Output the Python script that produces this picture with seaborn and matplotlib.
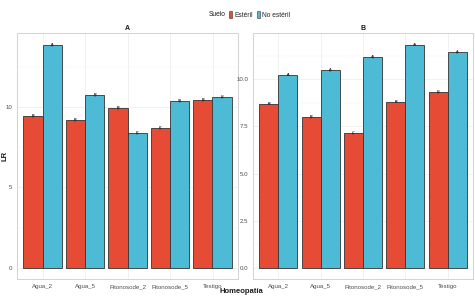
import numpy as np
import pandas as pd
import matplotlib
matplotlib.use('Agg')
import matplotlib.pyplot as plt
import seaborn as sns
from matplotlib.patches import Patch

# data
tratamientos = ['Agua_2', 'Agua_5', 'Fitonosode_2', 'Fitonosode_5', 'Testigo']
suelos = ['Estéril', 'No estéril']

a_esteril = [9.44, 9.19, 9.94, 8.70, 10.43]
a_no_esteril = [13.85, 10.75, 8.39, 10.37, 10.59]
a_se_esteril = [0.05, 0.05, 0.05, 0.05, 0.04]
a_se_no_esteril = [0.05, 0.05, 0.05, 0.05, 0.04]
a_letras_esteril = ['B', 'B', 'B', 'C', 'B']
a_letras_no_esteril = ['A', 'B', 'C', 'B', 'B']

b_esteril = [8.70, 8.01, 7.13, 8.81, 9.30]
b_no_esteril = [10.25, 10.47, 11.19, 11.83, 11.42]
b_se_esteril = [0.04, 0.04, 0.04, 0.04, 0.04]
b_se_no_esteril = [0.04, 0.04, 0.04, 0.04, 0.04]
b_letras_esteril = ['B', 'B', 'C', 'B', 'B']
b_letras_no_esteril = ['A', 'A', 'A', 'A', 'A']

colores = {'Estéril': '#E64B35', 'No estéril': '#4DBBD5'}

sns.set_style('white')
plt.rcParams['font.family'] = ['Liberation Sans', 'DejaVu Sans']

fig = plt.figure(figsize=(4.75, 2.97), dpi=100)
ax_a = fig.add_axes([17 / 475, 1 - 279 / 297, 221 / 475, 246 / 297])
ax_b = fig.add_axes([253 / 475, 1 - 279 / 297, 220 / 475, 246 / 297])

paneles = [
    (ax_a, 'A', a_esteril, a_no_esteril, a_se_esteril, a_se_no_esteril,
     a_letras_esteril, a_letras_no_esteril, (-0.70, 14.6), [0, 5, 10], ['0', '5', '10'], [2.5, 7.5, 12.5]),
    (ax_b, 'B', b_esteril, b_no_esteril, b_se_esteril, b_se_no_esteril,
     b_letras_esteril, b_letras_no_esteril, (-0.59, 12.45), [0, 2.5, 5, 7.5, 10],
     ['0.0', '2.5', '5.0', '7.5', '10.0'], [1.25, 3.75, 6.25, 8.75, 11.25]),
]

for ax, titulo, est, noest, se_est, se_noest, let_est, let_noest, ylim, yt, ytl, ymin in paneles:
    df = pd.DataFrame({
        'Homeopatia': tratamientos * 2,
        'Suelo': [suelos[0]] * 5 + [suelos[1]] * 5,
        'LR': est + noest,
    })
    ax.set_axisbelow(True)
    sns.barplot(data=df, x='Homeopatia', y='LR', hue='Suelo', order=tratamientos,
                hue_order=suelos, palette=colores, width=0.9, gap=0,
                edgecolor='#333333', linewidth=0.6, errorbar=None, saturation=1,
                legend=False, ax=ax)
    for cont, se, letras in zip(ax.containers, [se_est, se_noest], [let_est, let_noest]):
        xs = [b.get_x() + b.get_width() / 2 for b in cont]
        hs = [b.get_height() for b in cont]
        ax.errorbar(xs, hs, yerr=se, fmt='none', ecolor='#222222', elinewidth=0.35,
                    capsize=1.0, capthick=0.35)
        for x, h, l in zip(xs, hs, letras):
            ax.text(x, h, l, ha='center', va='center', fontsize=3.0, color='#222222')
    ax.set_xlim(-0.6, 4.6)
    ax.set_ylim(*ylim)
    ax.set_yticks(yt)
    ax.set_yticklabels(ytl)
    ax.set_yticks(ymin, minor=True)
    ax.grid(True, which='major', color='#EBEBEB', linewidth=0.5)
    ax.grid(True, which='minor', axis='y', color='#F4F4F4', linewidth=0.3)
    for s in ax.spines.values():
        s.set_color('#CCCCCC')
        s.set_linewidth(0.6)
    ax.tick_params(axis='both', labelsize=4.4, colors='#4D4D4D', length=2, width=0.4, pad=1.5)
    ax.tick_params(axis='both', which='minor', length=0)
    ax.set_xlabel('')
    ax.set_ylabel('')
    ax.set_title(titulo, fontsize=5, fontweight='bold', pad=2, color='#1A1A1A')

fig.text(5 / 475, 1 - 156 / 297, 'LR', rotation=90, fontsize=5.5, fontweight='bold',
         ha='center', va='center', color='#1A1A1A')
fig.text(241 / 475, 1 - 291.5 / 297, 'Homeopatía', fontsize=5.5, fontweight='bold',
         ha='center', va='center', color='#1A1A1A')

fig.text(226 / 475, 1 - 15 / 297, 'Suelo', fontsize=4.8, ha='right', va='center', color='#1A1A1A')
handles = [Patch(facecolor=colores[s], edgecolor='#333333', linewidth=0.4, label=s) for s in suelos]
fig.legend(handles=handles, loc='center left', bbox_to_anchor=(229 / 475, 1 - 15 / 297),
           ncol=2, frameon=False, fontsize=4.8, handlelength=0.5, handleheight=1.3,
           handletextpad=0.35, columnspacing=0.5, borderpad=0, borderaxespad=0)

fig.savefig('out.png', dpi=100)
